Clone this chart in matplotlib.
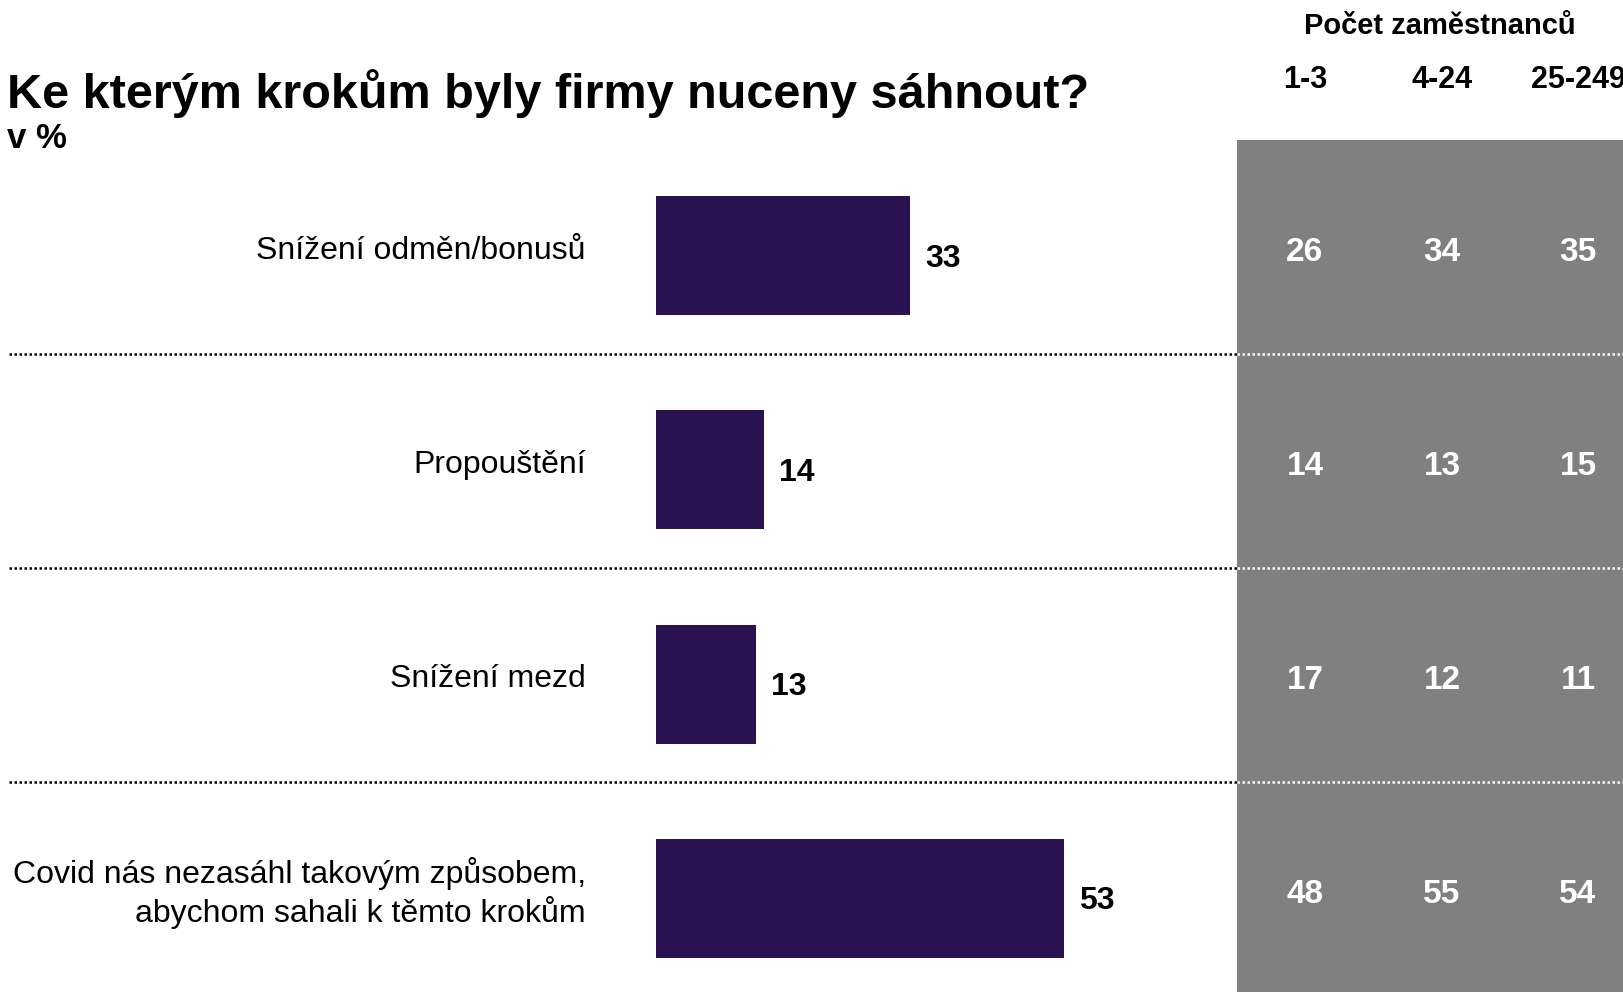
import matplotlib
matplotlib.use("Agg")
import matplotlib.pyplot as plt
from matplotlib.patches import Rectangle
import numpy as np

# ---- data ----
categories = ["Snížení odměn/bonusů", "Propouštění", "Snížení mezd",
              "Covid nás nezasáhl takovým způsobem,\nabychom sahali k těmto krokům"]
totals = [33, 14, 13, 53]
size_groups = ["1-3", "4-24", "25-249"]
values_1_3 = [26, 14, 17, 48]
values_4_24 = [34, 13, 12, 55]
values_25_249 = [35, 15, 11, 54]
title = "Ke kterým krokům byly firmy nuceny sáhnout?"
subtitle = "v %"
group_header = "Počet zaměstnanců"

# ---- style ----
W, H = 1624, 992
plt.rcParams['font.family'] = ['Liberation Sans', 'DejaVu Sans']
BAR_COLOR = '#2a1150'
GREY = '#808080'

fig = plt.figure(figsize=(W / 100, H / 100), dpi=100)
ax = fig.add_axes([0, 0, 1, 1])
ax.set_axis_off()

px_per_unit = 7.7
x0_px = 656
ax.set_xlim(-x0_px / px_per_unit, (W - x0_px) / px_per_unit)
row_pitch = 214.0
row0_px = 256.0
ax.set_ylim((H - row0_px) / row_pitch, -row0_px / row_pitch)

n = len(categories)
ypos = np.arange(n)

# grey panel
panel_left = 1237 / W
panel_top_px = 140
ax.add_patch(Rectangle((panel_left, 0), 1 - panel_left, 1 - panel_top_px / H,
                       transform=ax.transAxes, facecolor=GREY,
                       edgecolor='none', zorder=0))

# bars
ax.barh(ypos, totals, height=119 / row_pitch, color=BAR_COLOR, zorder=2)

yt = ax.get_yaxis_transform()
for i, (cat, v) in enumerate(zip(categories, totals)):
    ax.text(v + 15 / px_per_unit, i + 0.012, str(v), ha='left', va='center',
            fontsize=23, fontweight='bold', color='black', zorder=4)
    ax.text(586 / W, i - 0.025, cat, transform=yt, ha='right', va='center',
            fontsize=23, color='black', linespacing=1.22, multialignment='right',
            zorder=4)

# dotted separators
sep_offset = -0.044
for i in range(n - 1):
    y = i + 0.5 + sep_offset
    ax.plot([9 / W, panel_left], [y, y], transform=yt, color='black',
            lw=1.8, linestyle=(0, (1, 1)), zorder=3, dash_capstyle='butt')
    ax.plot([panel_left, 1], [y, y], transform=yt, color='white',
            lw=1.8, linestyle=(0, (1, 1)), zorder=3, dash_capstyle='butt')

# table
col_x = [1305 / W, 1442 / W, 1578 / W]
for cx, vals in zip(col_x, [values_1_3, values_4_24, values_25_249]):
    for i, v in enumerate(vals):
        ax.text(cx, i - 0.015, str(v), transform=yt, ha='center', va='center',
                fontsize=24, fontweight='bold', color='white', zorder=4)

fig.text(1440 / W, 1 - 26 / H, group_header, ha='center', va='center',
         fontsize=21, fontweight='bold')
for cx, g in zip(col_x, size_groups):
    fig.text(cx, 1 - 80 / H, g, ha='center', va='center', fontsize=22,
             fontweight='bold')

fig.text(7 / W, 1 - 94 / H, title, ha='left', va='center', fontsize=35,
         fontweight='bold')
fig.text(7 / W, 1 - 139 / H, subtitle, ha='left', va='center', fontsize=25,
         fontweight='bold')

fig.savefig("out.png", dpi=100)
